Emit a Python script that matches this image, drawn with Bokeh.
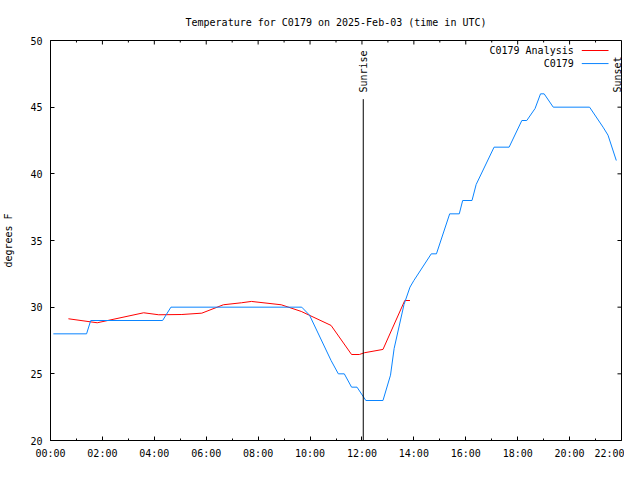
import math
from bokeh.plotting import figure
from bokeh.models import FixedTicker, LinearAxis, Label, Range1d
from bokeh.embed import file_html
from bokeh.resources import INLINE

# ---- data (hours UTC, degrees F) ----
obs_hours = [0.11, 1.39, 1.55, 4.32, 4.64, 9.68, 9.98, 10.81, 11.09, 11.32, 11.60,
             11.81, 12.15, 12.81, 13.10, 13.24, 13.62, 13.85, 14.00, 14.67, 14.87,
             15.38, 15.75, 15.88, 16.24, 16.40, 17.09, 17.67, 18.16, 18.35, 18.67,
             18.88, 19.02, 19.37, 20.77, 21.29, 21.48, 21.80]
obs_temps = [28.0, 28.0, 29.0, 29.0, 30.0, 30.0, 29.4, 26.0, 25.0, 25.0, 24.0,
             24.0, 23.0, 23.0, 24.9, 26.9, 30.2, 31.5, 32.0, 34.0, 34.0,
             37.0, 37.0, 38.0, 38.0, 39.2, 42.0, 42.0, 44.0, 44.0, 44.9,
             46.0, 46.0, 45.0, 45.0, 43.5, 42.9, 41.0]

ana_hours = [0.69, 1.80, 3.59, 4.17, 5.06, 5.83, 6.66, 7.36, 7.74, 8.89, 9.66,
             10.81, 11.60, 11.90, 12.09, 12.81, 13.65, 13.85]
ana_temps = [29.13, 28.83, 29.58, 29.43, 29.45, 29.55, 30.18, 30.33, 30.43, 30.18, 29.68,
             28.63, 26.45, 26.45, 26.58, 26.83, 30.50, 30.50]

sunrise_hour = 12.05
sunset_hour = 22.08

x_ticks = [0, 2, 4, 6, 8, 10, 12, 14, 16, 18, 20, 22]
x_tick_labels = ["00:00", "02:00", "04:00", "06:00", "08:00", "10:00",
                 "12:00", "14:00", "16:00", "18:00", "20:00", "22:00"]
x_minor = [1, 3, 5, 7, 9, 11, 13, 15, 17, 19, 21]
y_ticks = [20, 25, 30, 35, 40, 45, 50]

title_text = "Temperature for C0179 on 2025-Feb-03 (time in UTC)"
ylabel_text = "degrees F"
series_names = ["C0179 Analysis", "C0179"]
series_colors = ["#ff0000", "#0a84ff"]

FONT = "DejaVu Sans Mono"
FS = "10px"

X0, X1, Y0, Y1 = 0, 22, 20, 50

p = figure(width=624, height=464, output_backend="svg", toolbar_location=None,
           x_range=Range1d(X0, X1), y_range=Range1d(Y0, Y1),
           x_axis_type=None, y_axis_type=None,
           min_border_left=48, min_border_right=3, min_border_top=40, min_border_bottom=24)
p.background_fill_color = "white"
p.border_fill_color = "white"
p.outline_line_color = "black"
p.outline_line_width = 1
p.xgrid.visible = False
p.ygrid.visible = False

p.title.text = title_text
p.title.align = "center"
p.title.text_font = FONT
p.title.text_font_size = FS
p.title.text_font_style = "normal"
p.title.text_color = "black"
p.title.standoff = 26

xt = FixedTicker(ticks=x_ticks, minor_ticks=x_minor)
yt = FixedTicker(ticks=y_ticks, minor_ticks=[])


def style_axis(ax):
    ax.major_tick_in = 4
    ax.major_tick_out = 0
    ax.minor_tick_in = 2
    ax.minor_tick_out = 0
    ax.axis_line_color = "black"
    ax.major_tick_line_color = "black"
    ax.minor_tick_line_color = "black"
    ax.major_label_text_font = FONT
    ax.major_label_text_font_size = FS
    ax.major_label_text_color = "black"


bottom = LinearAxis(ticker=xt, major_label_overrides={t: l for t, l in zip(x_ticks, x_tick_labels)})
style_axis(bottom)
bottom.major_label_standoff = 7
left = LinearAxis(ticker=yt, axis_label=ylabel_text)
style_axis(left)
left.major_label_standoff = 8
left.axis_label_standoff = 13
left.axis_label_text_font = FONT
left.axis_label_text_font_size = FS
left.axis_label_text_font_style = "normal"
left.axis_label_text_color = "black"
p.add_layout(bottom, "below")
p.add_layout(left, "left")

# mirrored ticks on top and right borders
p.segment(x0=x_ticks, y0=[Y1] * len(x_ticks), x1=x_ticks, y1=[Y1 - 0.3] * len(x_ticks),
          line_color="black", line_width=1)
p.segment(x0=x_minor, y0=[Y1] * len(x_minor), x1=x_minor, y1=[Y1 - 0.15] * len(x_minor),
          line_color="black", line_width=1)
p.segment(x0=[X1] * len(y_ticks), y0=y_ticks, x1=[X1 - 0.155] * len(y_ticks), y1=y_ticks,
          line_color="black", line_width=1)

# data lines
p.line(ana_hours, ana_temps, line_color=series_colors[0], line_width=1)
p.line(obs_hours, obs_temps, line_color=series_colors[1], line_width=1)

# sunrise / sunset markers
p.segment(x0=[sunrise_hour, sunset_hour], y0=[45.6, 45.6],
          x1=[sunrise_hour, sunset_hour], y1=[Y0, Y0], line_color="black", line_width=1)
for hx, txt in [(sunrise_hour, "Sunrise"), (21.86, "Sunset")]:
    p.add_layout(Label(x=hx, y=46.1, text=txt, angle=math.pi / 2, text_align="left",
                       text_baseline="middle", text_font=FONT, text_font_size=FS,
                       text_color="black"))

# legend (gnuplot style: text then sample)
for ly, name, col in [(49.25, series_names[0], series_colors[0]), (48.27, series_names[1], series_colors[1])]:
    p.add_layout(Label(x=20.16, y=ly, text=name, text_align="right", text_baseline="middle",
                       text_font=FONT, text_font_size=FS, text_color="black"))
    p.segment(x0=[20.47], y0=[ly], x1=[21.5], y1=[ly], line_color=col, line_width=1)

open("out.html", "w").write(file_html(p, INLINE))
